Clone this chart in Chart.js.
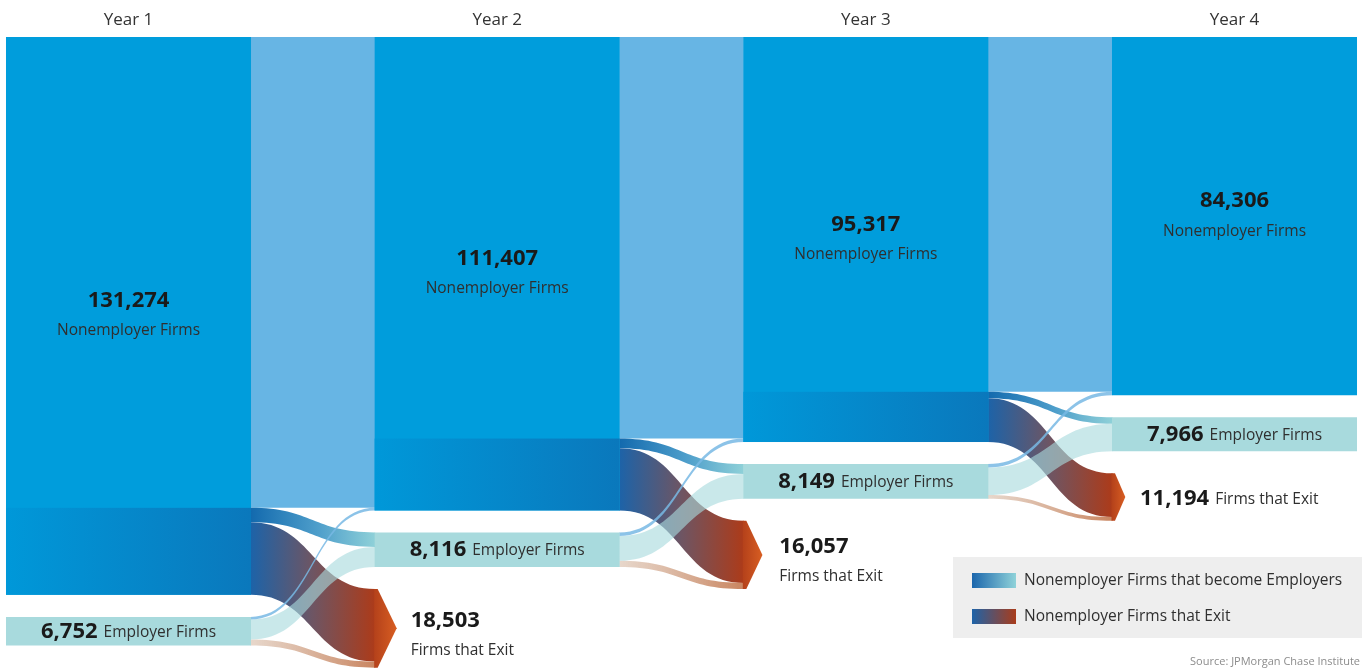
<!DOCTYPE html>
<html><head><meta charset="utf-8">
<script src="https://cdn.jsdelivr.net/npm/chart.js@4.4.1/dist/chart.umd.min.js"></script>
<style>html,body{margin:0;padding:0;background:#fff;}#wrap{width:1362px;height:670px;position:relative;}</style>
</head><body><div id="wrap"><canvas id="c"></canvas></div>
<script>
// ---- data ----
const years = ['Year 1', 'Year 2', 'Year 3', 'Year 4'];
const nonemployerFirms = [131274, 111407, 95317, 84306];
const employerFirms = [6752, 8116, 8149, 7966];
const exitFirms = [null, 18503, 16057, 11194];
// flows from year t to year t+1
const stayNonemployer = [110807, 94500, 83500];
const nonemployerToEmployer = [3400, 2300, 1500];
const nonemployerToExit = [17067, 14607, 10317];
const employerToNonemployer = [600, 817, 806];
const employerStay = [4716, 5849, 6466];
const employerToExit = [1436, 1450, 877];
const nodeGap = 5200;
const legendLabels = ['Nonemployer Firms that become Employers', 'Nonemployer Firms that Exit'];
const sourceText = 'Source: JPMorgan Chase Institute';

const FONT = '"Open Sans", "Noto Sans", sans-serif';
const fmt = v => v.toLocaleString('en-US');

function nodeRange(col, type) {
  const n = nonemployerFirms[col], e = employerFirms[col];
  if (type === 'N') return [0, n];
  if (type === 'E') return [n + nodeGap, n + nodeGap + e];
  const s = n + nodeGap + e + nodeGap;
  return [s, s + exitFirms[col]];
}

function band(ctx, x1, a1, b1, x2, a2, b2) {
  const xm = (x1 + x2) / 2;
  ctx.beginPath();
  ctx.moveTo(x1, a1);
  ctx.bezierCurveTo(xm, a1, xm, a2, x2, a2);
  ctx.lineTo(x2, b2);
  ctx.bezierCurveTo(xm, b2, xm, b1, x1, b1);
  ctx.closePath();
}

function barGeom(chart, ds, i) {
  const el = chart.getDatasetMeta(ds).data[i];
  const p = el.getProps(['x', 'width'], true);
  return {left: p.x - p.width / 2, right: p.x + p.width / 2, cx: p.x};
}

const sankeyPlugin = {
  id: 'sankeyFlows',
  beforeDatasetsDraw(chart) {
    const {ctx, scales: {y}} = chart;
    for (let t = 0; t < years.length - 1; t++) {
      const s = barGeom(chart, 0, t), d = barGeom(chart, 0, t + 1);
      const x1 = s.right, x2 = d.left;
      const links = [
        {src: 'N', tgt: 'N', v: stayNonemployer[t], k: 'stay'},
        {src: 'N', tgt: 'E', v: nonemployerToEmployer[t], k: 'toEmp'},
        {src: 'N', tgt: 'X', v: nonemployerToExit[t], k: 'toExit'},
        {src: 'E', tgt: 'N', v: employerToNonemployer[t], k: 'empToN'},
        {src: 'E', tgt: 'E', v: employerStay[t], k: 'empStay'},
        {src: 'E', tgt: 'X', v: employerToExit[t], k: 'empExit'}
      ];
      const so = {N: 0, E: 0}, to = {N: 0, E: 0, X: 0};
      const geo = {};
      links.forEach(l => {
        const sr = nodeRange(t, l.src)[0] + so[l.src];
        const tr = nodeRange(t + 1, l.tgt)[0] + to[l.tgt];
        so[l.src] += l.v; to[l.tgt] += l.v;
        geo[l.k] = [y.getPixelForValue(sr), y.getPixelForValue(sr + l.v), y.getPixelForValue(tr), y.getPixelForValue(tr + l.v)];
      });
      const draw = (k, fill) => {
        const g = geo[k];
        band(ctx, x1 - 0.5, g[0], g[1], x2 + 0.5, g[2], g[3]);
        ctx.fillStyle = fill; ctx.fill();
      };
      const grad = stops => {
        const gr = ctx.createLinearGradient(x1, 0, x2, 0);
        stops.forEach(([o, c]) => gr.addColorStop(o, c));
        return gr;
      };
      ctx.save();
      draw('stay', '#67b5e4');
      draw('toEmp', grad([[0, '#136aae'], [0.55, '#4f9fcb'], [1, '#8ed0d8']]));
      draw('toExit', grad([[0, '#1d63a8'], [0.5, '#6e5563'], [1, '#ac3b1a']]));
      draw('empExit', grad([[0, 'rgba(225,205,190,0.8)'], [1, '#c98560']]));
      draw('empStay', 'rgba(168,218,221,0.62)');
      draw('empToN', 'rgba(120,185,228,0.85)');
      ctx.restore();
    }
  },
  afterDatasetsDraw(chart) {
    const {ctx, scales: {y}} = chart;
    ctx.save();
    // shading of outflowing part of nonemployer nodes
    for (let t = 0; t < years.length - 1; t++) {
      const b = barGeom(chart, 0, t);
      const top = y.getPixelForValue(stayNonemployer[t]);
      const bot = y.getPixelForValue(nonemployerFirms[t]);
      const g = ctx.createLinearGradient(b.left, 0, b.right, 0);
      g.addColorStop(0, '#0098d9'); g.addColorStop(1, '#0a78bc');
      ctx.fillStyle = g;
      ctx.fillRect(b.left, top, b.right - b.left, bot - top);
    }
    // exit nodes (arrow shape)
    for (let t = 1; t < years.length; t++) {
      const b = barGeom(chart, 0, t);
      const [v0, v1] = nodeRange(t, 'X');
      const top = y.getPixelForValue(v0), bot = y.getPixelForValue(v1);
      const h = bot - top, tip = h * 0.28, mid = (top + bot) / 2;
      const g = ctx.createLinearGradient(b.left, 0, b.left + tip, 0);
      g.addColorStop(0, '#b5421b'); g.addColorStop(1, '#d85e22');
      ctx.beginPath();
      ctx.moveTo(b.left - 0.5, top); ctx.lineTo(b.left + 3, top);
      ctx.lineTo(b.left + tip, mid); ctx.lineTo(b.left + 3, bot);
      ctx.lineTo(b.left - 0.5, bot); ctx.closePath();
      ctx.fillStyle = g; ctx.fill();
    }
    // labels
    ctx.textBaseline = 'middle';
    const numFont = 'bold 22px ' + FONT, txtFont = '15.5px ' + FONT;
    const numCol = '#1a1a1a', txtCol = '#2f2f2f';
    const inline = (num, txt, x, yy, align) => {
      ctx.font = numFont; const w1 = ctx.measureText(num).width;
      ctx.font = txtFont; const w2 = ctx.measureText(txt).width;
      const gap = 6, tot = w1 + gap + w2;
      const sx = align === 'center' ? x - tot / 2 : x;
      ctx.textAlign = 'left';
      ctx.font = numFont; ctx.fillStyle = numCol; ctx.fillText(num, sx, yy);
      ctx.font = txtFont; ctx.fillStyle = txtCol; ctx.fillText(txt, sx + w1 + gap, yy + 1);
    };
    for (let t = 0; t < years.length; t++) {
      const b = barGeom(chart, 0, t);
      const [n0, n1] = nodeRange(t, 'N');
      const nm = (y.getPixelForValue(n0) + y.getPixelForValue(n1)) / 2;
      ctx.textAlign = 'center';
      ctx.font = numFont; ctx.fillStyle = numCol;
      ctx.fillText(fmt(nonemployerFirms[t]), b.cx, nm - 15);
      ctx.font = txtFont; ctx.fillStyle = txtCol;
      ctx.fillText('Nonemployer Firms', b.cx, nm + 15);
      const [e0, e1] = nodeRange(t, 'E');
      const em = (y.getPixelForValue(e0) + y.getPixelForValue(e1)) / 2;
      inline(fmt(employerFirms[t]), 'Employer Firms', b.cx, em, 'center');
      if (exitFirms[t] != null) {
        const [x0, x1v] = nodeRange(t, 'X');
        const xm = (y.getPixelForValue(x0) + y.getPixelForValue(x1v)) / 2;
        if (t === years.length - 1) {
          inline(fmt(exitFirms[t]), 'Firms that Exit', b.left + 28, xm + 2, 'left');
        } else {
          ctx.textAlign = 'left';
          ctx.font = numFont; ctx.fillStyle = numCol;
          ctx.fillText(fmt(exitFirms[t]), b.left + 36, xm - 8);
          ctx.font = txtFont; ctx.fillStyle = txtCol;
          ctx.fillText('Firms that Exit', b.left + 36, xm + 22);
        }
      }
    }
    ctx.restore();
  },
  afterDraw(chart) {
    const {ctx} = chart;
    ctx.save();
    ctx.fillStyle = '#eeeeee';
    ctx.fillRect(953, 557, 409, 81);
    const sw = [
      [[0, '#1b66ac'], [1, '#8fd2d9']],
      [[0, '#1e63a8'], [1, '#a93c1b']]
    ];
    sw.forEach((stops, i) => {
      const yy = 573 + i * 36;
      const g = ctx.createLinearGradient(972, 0, 1016, 0);
      stops.forEach(([o, c]) => g.addColorStop(o, c));
      ctx.fillStyle = g; ctx.fillRect(972, yy, 44, 15);
      ctx.font = '15.5px ' + FONT; ctx.fillStyle = '#2f2f2f';
      ctx.textAlign = 'left'; ctx.textBaseline = 'middle';
      ctx.fillText(legendLabels[i], 1024, yy + 8);
    });
    ctx.font = '11px ' + FONT; ctx.fillStyle = '#8c8c8c';
    ctx.textAlign = 'right'; ctx.textBaseline = 'middle';
    ctx.fillText(sourceText, 1360, 662);
    ctx.restore();
  }
};

const xMin = -0.34856, xMax = 3.34583;
new Chart(document.getElementById('c'), {
  type: 'bar',
  data: {
    datasets: [
      {label: 'Nonemployer Firms', data: years.map((_, i) => ({x: i, y: nodeRange(i, 'N')})), backgroundColor: '#009ddc'},
      {label: 'Employer Firms', data: years.map((_, i) => ({x: i, y: nodeRange(i, 'E')})), backgroundColor: '#a8dadd'}
    ]
  },
  options: {
    responsive: true, maintainAspectRatio: false, animation: false,
    datasets: {bar: {grouped: false, barPercentage: 0.6646, categoryPercentage: 1, borderWidth: 0}},
    layout: {padding: {top: 2.6, bottom: 2, left: 0, right: 0}},
    plugins: {legend: {display: false}, tooltip: {enabled: false}},
    scales: {
      x: {
        type: 'linear', position: 'top', min: xMin, max: xMax, offset: false,
        afterBuildTicks: s => { s.ticks = years.map((_, i) => ({value: i})); },
        ticks: {callback: v => years[v], font: {family: FONT, size: 17}, color: '#333', padding: 7, maxRotation: 0, autoSkip: false},
        grid: {display: false, drawTicks: false, offset: false}, border: {display: false}
      },
      y: {type: 'linear', min: 0, max: 148500, reverse: true, display: false}
    }
  },
  plugins: [sankeyPlugin]
});
</script></body></html>
